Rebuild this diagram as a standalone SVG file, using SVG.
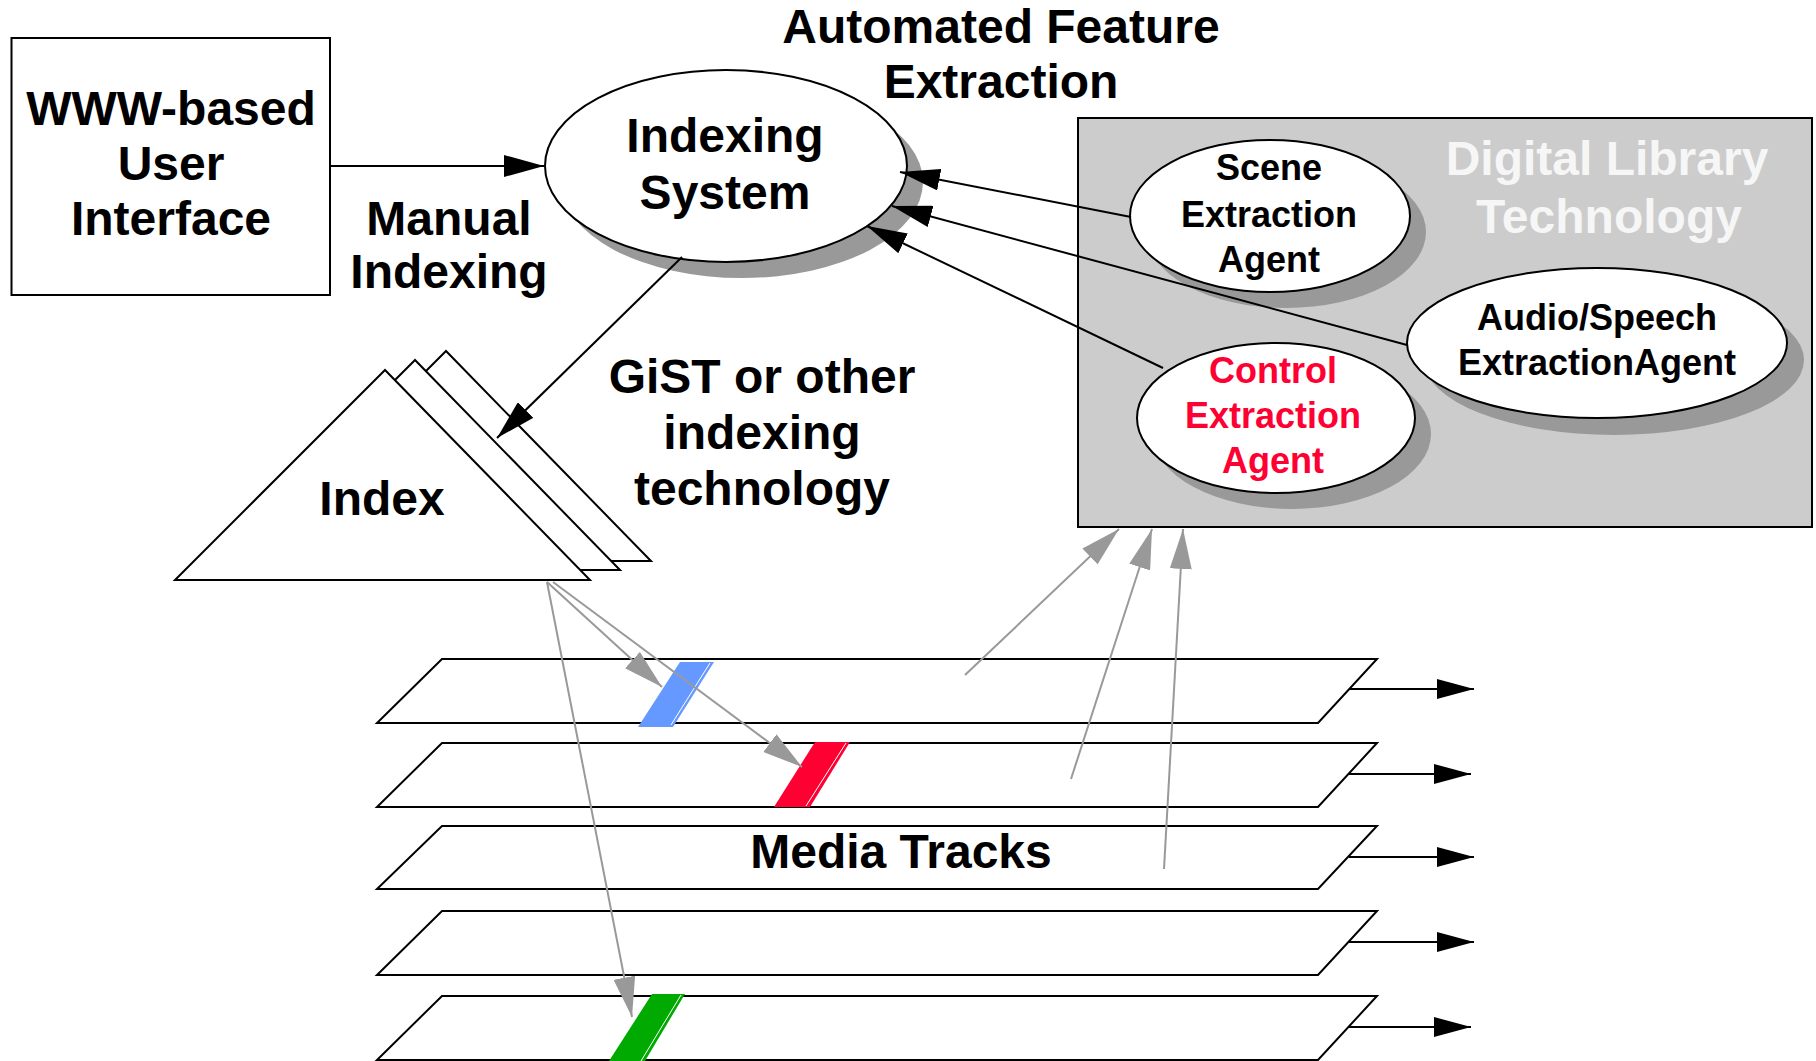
<svg xmlns="http://www.w3.org/2000/svg" width="1816" height="1061" viewBox="0 0 1816 1061">
  <defs>
    <marker id="headBlack" viewBox="0 0 40 22" refX="40" refY="11" markerWidth="40" markerHeight="22" markerUnits="userSpaceOnUse" orient="auto">
      <path d="M0,0 L40,11 L0,22 Z" fill="#000"/>
    </marker>
    <marker id="headGray" viewBox="0 0 40 22" refX="40" refY="11" markerWidth="40" markerHeight="22" markerUnits="userSpaceOnUse" orient="auto">
      <path d="M0,0 L40,11 L0,22 Z" fill="#999"/>
    </marker>
    <marker id="headTrack" viewBox="0 0 37 20" refX="37" refY="10" markerWidth="37" markerHeight="20" markerUnits="userSpaceOnUse" orient="auto">
      <path d="M0,0 L37,10 L0,20 Z" fill="#000"/>
    </marker>
  </defs>
  <style>
    text { font-family: "Liberation Sans", Arial, Helvetica, sans-serif; font-weight: bold; text-anchor: middle; fill: #000; }
    .big { font-size: 48px; }
    .agent { font-size: 36px; }
    .red { fill: #ff0033; }
    .pale { fill: #f6f6f6; }
    .shape { fill: #fff; stroke: #000; stroke-width: 2; }
    .shadow { fill: #999; }
    .edge { stroke: #000; stroke-width: 2; fill: none; marker-end: url(#headBlack); }
    .gedge { stroke: #999; stroke-width: 2; fill: none; marker-end: url(#headGray); }
    .tedge { stroke: #000; stroke-width: 2; fill: none; marker-end: url(#headTrack); }
    .glint { stroke: #fff; stroke-width: 1; }
  </style>

  <rect x="0" y="0" width="1816" height="1061" fill="#fff"/>

  <!-- user interface box -->
  <g id="user-interface">
    <rect class="shape" x="11.5" y="38" width="318.5" height="257"/>
    <text class="big" x="171" y="125">WWW-based</text>
    <text class="big" x="171" y="180">User</text>
    <text class="big" x="171" y="235">Interface</text>
  </g>

  <g id="manual-indexing-label">
    <text class="big" x="449" y="235">Manual</text>
    <text class="big" x="449" y="288">Indexing</text>
  </g>

  <g id="feature-extraction-label">
    <text class="big" x="1001" y="43">Automated Feature</text>
    <text class="big" x="1001" y="98">Extraction</text>
  </g>

  <!-- indexing system -->
  <g id="indexing-system">
    <ellipse class="shadow" cx="742" cy="182" rx="181" ry="96"/>
    <ellipse class="shape" cx="726" cy="166" rx="181" ry="96"/>
    <text class="big" x="725" y="152">Indexing</text>
    <text class="big" x="725" y="209">System</text>
  </g>

  <!-- digital library panel with its agents -->
  <g id="digital-library">
    <rect x="1078" y="118" width="734" height="409" fill="#cccccc" stroke="#000" stroke-width="2"/>
    <text class="big pale" x="1607" y="175">Digital Library</text>
    <text class="big pale" x="1609" y="233">Technology</text>
  </g>

  <g id="scene-agent">
    <ellipse class="shadow" cx="1286" cy="232" rx="140" ry="76"/>
    <ellipse class="shape" cx="1270" cy="216" rx="140" ry="76"/>
    <text class="agent" x="1269" y="180">Scene</text>
    <text class="agent" x="1269" y="227">Extraction</text>
    <text class="agent" x="1269" y="272">Agent</text>
  </g>

  <g id="audio-agent">
    <ellipse class="shadow" cx="1614" cy="360" rx="190" ry="75"/>
    <ellipse class="shape" cx="1597" cy="343" rx="190" ry="75"/>
    <text class="agent" x="1597" y="330">Audio/Speech</text>
    <text class="agent" x="1597" y="375">ExtractionAgent</text>
  </g>

  <g id="control-agent">
    <ellipse class="shadow" cx="1292" cy="434" rx="139" ry="75"/>
    <ellipse class="shape" cx="1276" cy="418" rx="139" ry="75"/>
    <text class="agent red" x="1273" y="383">Control</text>
    <text class="agent red" x="1273" y="428">Extraction</text>
    <text class="agent red" x="1273" y="473">Agent</text>
  </g>

  <!-- stacked index trees -->
  <g id="index">
    <polygon class="shape" points="446,351 236,561 651,561"/>
    <polygon class="shape" points="415,360 205,570 620,570"/>
    <polygon class="shape" points="385,370 175,580 590,580"/>
    <text class="big" x="382" y="515">Index</text>
  </g>

  <g id="gist-label">
    <text class="big" x="762" y="393">GiST or other</text>
    <text class="big" x="762" y="449">indexing</text>
    <text class="big" x="762" y="505">technology</text>
  </g>

  <!-- media tracks -->
  <g id="media-tracks">
    <polygon class="shape" points="442,659 1377,659 1318,723 377,723"/>
    <polygon class="shape" points="442,743 1377,743 1318,807 377,807"/>
    <polygon class="shape" points="442,826 1377,826 1318,889 377,889"/>
    <polygon class="shape" points="442,911 1377,911 1318,975 377,975"/>
    <polygon class="shape" points="442,996 1377,996 1318,1060 377,1060"/>
    <text class="big" x="901" y="868">Media Tracks</text>
    <!-- marked segments -->
    <polygon points="680,662 714,662 673,727 638,727" fill="#6699ff"/>
    <line class="glint" x1="710" y1="663" x2="671" y2="725"/>
    <polygon points="815,742 850,742 810,807 774,807" fill="#ff0033"/>
    <line class="glint" x1="846" y1="743" x2="806" y2="806"/>
    <polygon points="652,994 685,994 645,1061 609,1061" fill="#00aa00"/>
    <line class="glint" x1="681" y1="995" x2="641" y2="1061"/>
  </g>

  <g id="connectors">
    <line class="edge" x1="330" y1="166" x2="544" y2="166"/>
    <line class="edge" x1="1131" y1="217" x2="900" y2="172"/>
    <line class="edge" x1="1407" y1="345" x2="892" y2="206"/>
    <line class="edge" x1="1163" y1="368" x2="867" y2="226"/>
    <line class="edge" x1="682" y1="257" x2="497" y2="438"/>

    <line class="gedge" x1="547" y1="582" x2="662" y2="687"/>
    <line class="gedge" x1="553" y1="582" x2="802" y2="767"/>
    <line class="gedge" x1="547" y1="582" x2="632" y2="1017"/>

    <line class="gedge" x1="965" y1="675" x2="1119" y2="529"/>
    <line class="gedge" x1="1071" y1="779" x2="1152" y2="529"/>
    <line class="gedge" x1="1164" y1="869" x2="1183" y2="529"/>

    <line class="tedge" x1="1349" y1="689" x2="1474" y2="689"/>
    <line class="tedge" x1="1349" y1="774" x2="1471" y2="774"/>
    <line class="tedge" x1="1349" y1="857" x2="1474" y2="857"/>
    <line class="tedge" x1="1349" y1="942" x2="1474" y2="942"/>
    <line class="tedge" x1="1349" y1="1027" x2="1471" y2="1027"/>
  </g>
</svg>
